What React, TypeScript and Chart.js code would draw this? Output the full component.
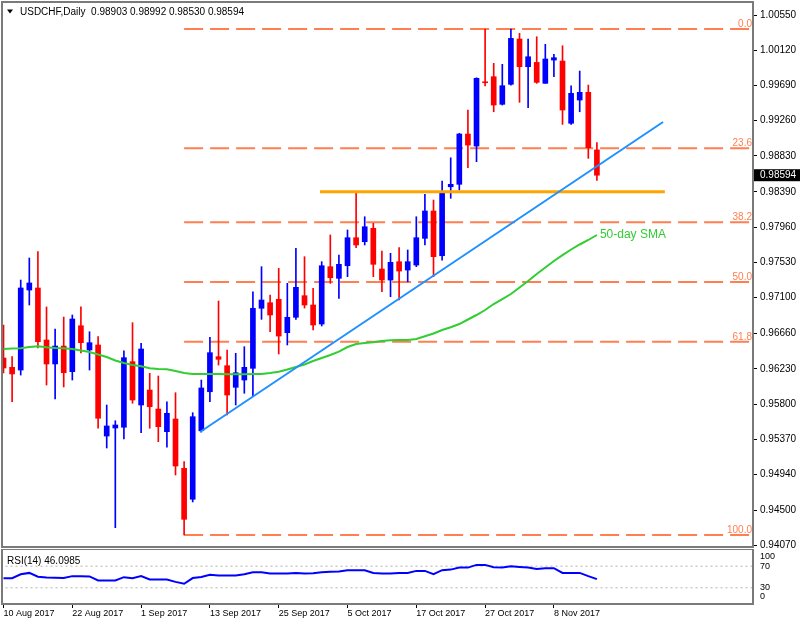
import React, { useEffect, useRef } from "react";
import { Chart, registerables } from "chart.js";

Chart.register(...registerables);

const SANS = "'Liberation Sans', Arial, sans-serif";

// ---------- data ----------
const symbolTitle = "USDCHF,Daily";
const rsiTitle = "RSI(14) 46.0985";
const dateLabels = ["10 Aug 2017", "22 Aug 2017", "1 Sep 2017", "13 Sep 2017", "25 Sep 2017", "5 Oct 2017", "17 Oct 2017", "27 Oct 2017", "8 Nov 2017"];
const dateLabelBars = [0, 8, 16, 24, 32, 40, 48, 56, 64];

const opens = [0.96362, 0.96248, 0.96215, 0.97192, 0.97217, 0.96582, 0.96289, 0.96508, 0.96195, 0.96756,
  0.96460, 0.96521, 0.95409, 0.95507, 0.95516, 0.96317, 0.95788, 0.95971, 0.95739, 0.95462,
  0.95617, 0.95015, 0.94637, 0.95474, 0.95950, 0.96378, 0.96268, 0.96004, 0.96093, 0.96236,
  0.96969, 0.97037, 0.97079, 0.96671, 0.96859, 0.97123, 0.97009, 0.96777, 0.97477, 0.97335,
  0.97489, 0.97831, 0.97782, 0.97946, 0.97449, 0.97314, 0.97538, 0.97436, 0.97497, 0.97823,
  0.98157, 0.97611, 0.98453, 0.98483, 0.99097, 0.98950, 0.99735, 0.99797, 0.99460, 0.99704,
  1.00257, 0.99919, 0.99972, 0.99716, 1.00000, 0.99988, 0.99228, 0.99512, 0.99606, 0.98903];
const highs = [0.96765, 0.96378, 0.97314, 0.97583, 0.97660, 0.96985, 0.96716, 0.96862, 0.96887, 0.96988,
  0.96683, 0.96622, 0.95788, 0.95596, 0.96451, 0.96793, 0.96541, 0.96175, 0.96142, 0.95828,
  0.95938, 0.95096, 0.95694, 0.96093, 0.96615, 0.97058, 0.96460, 0.96419, 0.96500, 0.97171,
  0.97477, 0.97131, 0.97457, 0.97274, 0.97701, 0.97599, 0.97213, 0.97538, 0.97864, 0.97619,
  0.97925, 0.98392, 0.98087, 0.98007, 0.97668, 0.97640, 0.97709, 0.97681, 0.98087, 0.98361,
  0.98291, 0.98523, 0.98807, 0.99105, 0.99390, 0.99784, 1.00380, 0.99960, 0.99948, 1.00380,
  1.00326, 1.00257, 1.00285, 1.00192, 1.00070, 1.00175, 0.99687, 0.99866, 0.99695, 0.98992];
const lows = [0.96179, 0.95828, 0.96154, 0.97009, 0.96484, 0.96032, 0.95861, 0.96008, 0.96093, 0.96423,
  0.96215, 0.95504, 0.95263, 0.94290, 0.95373, 0.95809, 0.95450, 0.95504, 0.95340, 0.95272,
  0.94933, 0.94200, 0.94604, 0.95458, 0.95828, 0.96276, 0.95666, 0.95788, 0.95931, 0.95889,
  0.96834, 0.96683, 0.96411, 0.96521, 0.96834, 0.96972, 0.96704, 0.96753, 0.97274, 0.97091,
  0.97355, 0.97709, 0.97742, 0.97355, 0.97171, 0.97110, 0.97070, 0.97293, 0.97477, 0.97742,
  0.97355, 0.97558, 0.98312, 0.98413, 0.98685, 0.98759, 0.99683, 0.99369, 0.99451, 0.99695,
  0.99484, 0.99418, 0.99716, 0.99716, 0.99797, 0.99215, 0.99215, 0.99369, 0.98800, 0.98530];
const closes = [0.96240, 0.96167, 0.97217, 0.97278, 0.96561, 0.96289, 0.96508, 0.96182, 0.96838, 0.96549,
  0.96549, 0.95626, 0.95532, 0.95544, 0.96366, 0.95849, 0.96472, 0.95767, 0.95523, 0.95687,
  0.95043, 0.94392, 0.95645, 0.95996, 0.96427, 0.96346, 0.95910, 0.96182, 0.96248, 0.96969,
  0.97070, 0.96887, 0.96630, 0.96859, 0.97225, 0.97009, 0.96765, 0.97489, 0.97342, 0.97506,
  0.97831, 0.97742, 0.97965, 0.97506, 0.97314, 0.97530, 0.97424, 0.97538, 0.97831, 0.98157,
  0.97599, 0.98373, 0.98483, 0.99097, 0.98962, 0.99777, 0.99723, 0.99451, 0.99687, 1.00265,
  0.99919, 1.00041, 0.99728, 1.00013, 1.00029, 0.99390, 0.99594, 0.99606, 0.98930, 0.98594];

const sma50 = [0.96472, 0.96478, 0.96480, 0.96496, 0.96505, 0.96493, 0.96484, 0.96480, 0.96472, 0.96453,
  0.96435, 0.96405, 0.96374, 0.96331, 0.96301, 0.96276, 0.96261, 0.96236, 0.96228, 0.96224,
  0.96203, 0.96179, 0.96167, 0.96167, 0.96167, 0.96167, 0.96164, 0.96163, 0.96164, 0.96167,
  0.96167, 0.96179, 0.96195, 0.96221, 0.96252, 0.96283, 0.96325, 0.96362, 0.96398, 0.96439,
  0.96496, 0.96533, 0.96545, 0.96554, 0.96569, 0.96578, 0.96582, 0.96582, 0.96594, 0.96627,
  0.96661, 0.96704, 0.96737, 0.96777, 0.96832, 0.96887, 0.96948, 0.97021, 0.97082, 0.97143,
  0.97223, 0.97302, 0.97387, 0.97467, 0.97546, 0.97619, 0.97687, 0.97748, 0.97803, 0.97864];

const rsi14 = [47.9, 47.9, 55, 57.6, 50.5, 49, 48.6, 48, 51.6, 51.6,
  51, 43.5, 43.5, 43.5, 49.7, 47.9, 51.6, 45.3, 45.3, 45.3,
  41, 37.4, 48, 50, 54, 52.7, 52.7, 52.7, 55.2, 58.9,
  58.9, 56.4, 56.4, 56.4, 57.6, 56.4, 57, 58.9, 59.5, 60,
  62.6, 62.6, 62.6, 57.6, 56.4, 56.4, 57.6, 57.6, 61.3, 61.3,
  55.2, 62.6, 63.7, 67.4, 67.4, 72.4, 72.4, 68, 67.4, 70,
  68.7, 67.4, 65, 66.3, 66.3, 57.6, 57.6, 57.6, 51.6, 46.1];

const priceTicks = [1.0055, 1.0012, 0.9969, 0.9926, 0.9883, 0.9839, 0.9796, 0.9753, 0.971, 0.9666, 0.9623, 0.958, 0.9537, 0.9494, 0.945, 0.9407];

const fibLabels = ["0.0", "23.6", "38.2", "50.0", "61.8", "100.0"];
const fibLevels = [1.0038, 0.98922, 0.98019, 0.9729, 0.96561, 0.942];
const fibStartBar = 21;

const supportLevel = 0.98392;
const supportBars = [36.8, 76.9];
const trendBars = [22.85, 76.69];
const trendValues = [0.95458, 0.99244];

const rsiLevels = [70, 30];
const rsiAxisLabels = [100, 70, 30, 0];
const smaLabel = "50-day SMA";

const X_MIN = -0.06;
const X_MAX = 87.15;
const X_FAR = 95;
const Y_MIN = 0.94054;
const Y_MAX = 1.00697;

// ---------- styles ----------
const BULL = "#0000FF";
const BEAR = "#FF0000";
const FIB = "#FF7F50";
const FRAME = "#7a7a7a";

const idx = opens.map((_, i) => i);
const isBull = (i: number) => closes[i] >= opens[i];

const mainDecor = {
  id: "mainDecor",
  afterDraw(chart: any) {
    const { ctx, chartArea: ca, scales } = chart;
    const xs = scales.x;
    const ys = scales.y;
    ctx.save();
    // fib labels
    ctx.font = `10px ${SANS}`;
    ctx.fillStyle = FIB;
    ctx.textAlign = "right";
    ctx.textBaseline = "alphabetic";
    fibLevels.forEach((v, k) => {
      ctx.fillText(fibLabels[k], ca.right - 1, ys.getPixelForValue(v) - 2);
    });
    // SMA label
    const last = sma50.length - 1;
    ctx.font = `12px ${SANS}`;
    ctx.fillStyle = "#32CD32";
    ctx.textAlign = "left";
    ctx.textBaseline = "middle";
    ctx.fillText(smaLabel, xs.getPixelForValue(last) + 3, ys.getPixelForValue(sma50[last]));
    // frame
    ctx.strokeStyle = FRAME;
    ctx.lineWidth = 2;
    ctx.strokeRect(ca.left - 1, ca.top - 1, ca.right - ca.left + 1, ca.bottom - ca.top + 1);
    // header
    ctx.fillStyle = "#000";
    ctx.beginPath();
    ctx.moveTo(7, 9.5);
    ctx.lineTo(13, 9.5);
    ctx.lineTo(10, 13.5);
    ctx.closePath();
    ctx.fill();
    ctx.font = `10px ${SANS}`;
    ctx.textAlign = "left";
    ctx.textBaseline = "middle";
    const n = closes.length - 1;
    const head = `${symbolTitle}  ${opens[n].toFixed(5)} ${highs[n].toFixed(5)} ${lows[n].toFixed(5)} ${closes[n].toFixed(5)}`;
    ctx.fillText(head, 20, 12);
    // current price box
    const py = ys.getPixelForValue(closes[n]);
    ctx.fillStyle = "#000";
    ctx.fillRect(ca.right + 1, py - 6, 800 - ca.right, 12);
    ctx.fillStyle = "#fff";
    ctx.fillText(closes[n].toFixed(5), ca.right + 7, py + 0.5);
    ctx.restore();
  },
};

const rsiDecor = {
  id: "rsiDecor",
  afterDraw(chart: any) {
    const { ctx, chartArea: ca, scales } = chart;
    const ys = scales.y;
    ctx.save();
    ctx.strokeStyle = FRAME;
    ctx.lineWidth = 2;
    ctx.strokeRect(ca.left - 1, ca.top - 1, ca.right - ca.left + 1, ca.bottom - ca.top + 1);
    ctx.fillStyle = "#000";
    ctx.font = `10px ${SANS}`;
    ctx.textAlign = "left";
    ctx.textBaseline = "middle";
    ctx.fillText(rsiTitle, 7, 12);
    ctx.font = `9px ${SANS}`;
    rsiAxisLabels.forEach((v) => {
      let y = ys.getPixelForValue(v);
      y = Math.max(ca.top + 7, Math.min(ca.bottom - 7, y));
      ctx.fillText(String(v), ca.right + 7, y);
    });
    ctx.restore();
  },
};

function makeMainConfig(): any {
  const bodyData = idx.map((i) => ({ x: i, y: [opens[i], closes[i]] }));
  const wickData = idx.map((i) => ({ x: i, y: [lows[i], highs[i]] }));
  const bodyColors = idx.map((i) => (isBull(i) ? BULL : BEAR));
  const fibSets = fibLevels.map((v) => ({
    type: "line",
    data: [{ x: fibStartBar, y: v }, { x: X_FAR, y: v }],
    borderColor: FIB,
    borderWidth: 2,
    borderDash: [19, 7],
    pointRadius: 0,
    order: 5,
  }));
  return {
    type: "bar",
    data: {
      datasets: [
        {
          type: "line",
          data: trendBars.map((b, k) => ({ x: b, y: trendValues[k] })),
          borderColor: "#1E90FF",
          borderWidth: 2,
          pointRadius: 0,
          order: 0,
        },
        {
          type: "line",
          data: supportBars.map((b) => ({ x: b, y: supportLevel })),
          borderColor: "#FFA500",
          borderWidth: 3,
          pointRadius: 0,
          order: 0,
        },
        {
          type: "line",
          data: sma50.map((v, i) => ({ x: i, y: v })),
          borderColor: "#32CD32",
          borderWidth: 2,
          pointRadius: 0,
          tension: 0,
          order: 1,
        },
        {
          type: "bar",
          data: bodyData,
          backgroundColor: bodyColors,
          barThickness: 5,
          minBarLength: 1,
          grouped: false,
          order: 2,
        },
        {
          type: "bar",
          data: wickData,
          backgroundColor: bodyColors,
          barThickness: 1,
          minBarLength: 1,
          grouped: false,
          order: 3,
        },
        ...fibSets,
      ],
    },
    options: {
      responsive: false,
      devicePixelRatio: 1,
      animation: false,
      events: [],
      layout: { padding: { left: 3, top: 3, right: 0, bottom: 2 } },
      plugins: { legend: { display: false }, tooltip: { enabled: false } },
      scales: {
        x: {
          type: "linear",
          min: X_MIN,
          max: X_MAX,
          offset: false,
          display: false,
        },
        y: {
          type: "linear",
          position: "right",
          min: Y_MIN,
          max: Y_MAX,
          afterBuildTicks: (s: any) => {
            s.ticks = priceTicks.map((v) => ({ value: v }));
          },
          afterFit: (s: any) => {
            s.width = 47;
            s.paddingTop = 0;
            s.paddingBottom = 0;
          },
          ticks: {
            autoSkip: false,
            padding: 3,
            color: "#000",
            font: { family: SANS, size: 10 },
            callback: (v: any) => Number(v).toFixed(5),
          },
          grid: { drawOnChartArea: false, drawTicks: true, tickLength: 4, color: "#000" },
          border: { display: false },
        },
      },
    },
    plugins: [mainDecor],
  };
}

function makeRsiConfig(): any {
  const levelSets = rsiLevels.map((v) => ({
    data: [{ x: -5, y: v }, { x: X_FAR, y: v }],
    borderColor: "#b4b4b4",
    borderWidth: 1,
    borderDash: [2, 3],
    pointRadius: 0,
    order: 2,
  }));
  return {
    type: "line",
    data: {
      datasets: [
        {
          data: rsi14.map((v, i) => ({ x: i, y: v })),
          borderColor: "#0000FF",
          borderWidth: 2,
          pointRadius: 0,
          tension: 0,
          order: 0,
        },
        ...levelSets,
      ],
    },
    options: {
      responsive: false,
      devicePixelRatio: 1,
      animation: false,
      events: [],
      layout: { padding: { left: 3, top: 1, right: 0, bottom: 0 } },
      plugins: { legend: { display: false }, tooltip: { enabled: false } },
      scales: {
        x: {
          type: "linear",
          min: X_MIN,
          max: X_MAX,
          offset: false,
          position: "bottom",
          afterBuildTicks: (s: any) => {
            s.ticks = dateLabelBars.map((v) => ({ value: v }));
          },
          afterFit: (s: any) => {
            s.height = 23;
            s.paddingLeft = 0;
            s.paddingRight = 0;
          },
          ticks: {
            autoSkip: false,
            maxRotation: 0,
            align: "start",
            padding: 0,
            color: "#000",
            font: { family: SANS, size: 9 },
            callback: (v: any) => {
              const k = dateLabelBars.indexOf(Number(v));
              return k >= 0 ? dateLabels[k] : "";
            },
          },
          grid: { drawOnChartArea: false, drawTicks: true, tickLength: 4, color: "#000" },
          border: { display: false },
        },
        y: {
          type: "linear",
          position: "right",
          min: 0,
          max: 100,
          afterFit: (s: any) => {
            s.width = 47;
            s.paddingTop = 0;
            s.paddingBottom = 0;
          },
          ticks: { display: false },
          grid: { display: false },
          border: { display: false },
        },
      },
    },
    plugins: [rsiDecor],
  };
}

export default function App() {
  const mainRef = useRef<HTMLCanvasElement>(null);
  const rsiRef = useRef<HTMLCanvasElement>(null);

  useEffect(() => {
    const c1 = new Chart(mainRef.current as HTMLCanvasElement, makeMainConfig());
    const c2 = new Chart(rsiRef.current as HTMLCanvasElement, makeRsiConfig());
    return () => {
      c1.destroy();
      c2.destroy();
    };
  }, []);

  return (
    <div style={{ position: "absolute", left: 0, top: 0, width: 800, height: 627, background: "#fff", overflow: "hidden" }}>
      <canvas ref={mainRef} width={800} height={549} style={{ position: "absolute", left: 0, top: 0, width: 800, height: 549 }} />
      <canvas ref={rsiRef} width={800} height={78} style={{ position: "absolute", left: 0, top: 549, width: 800, height: 78 }} />
    </div>
  );
}
